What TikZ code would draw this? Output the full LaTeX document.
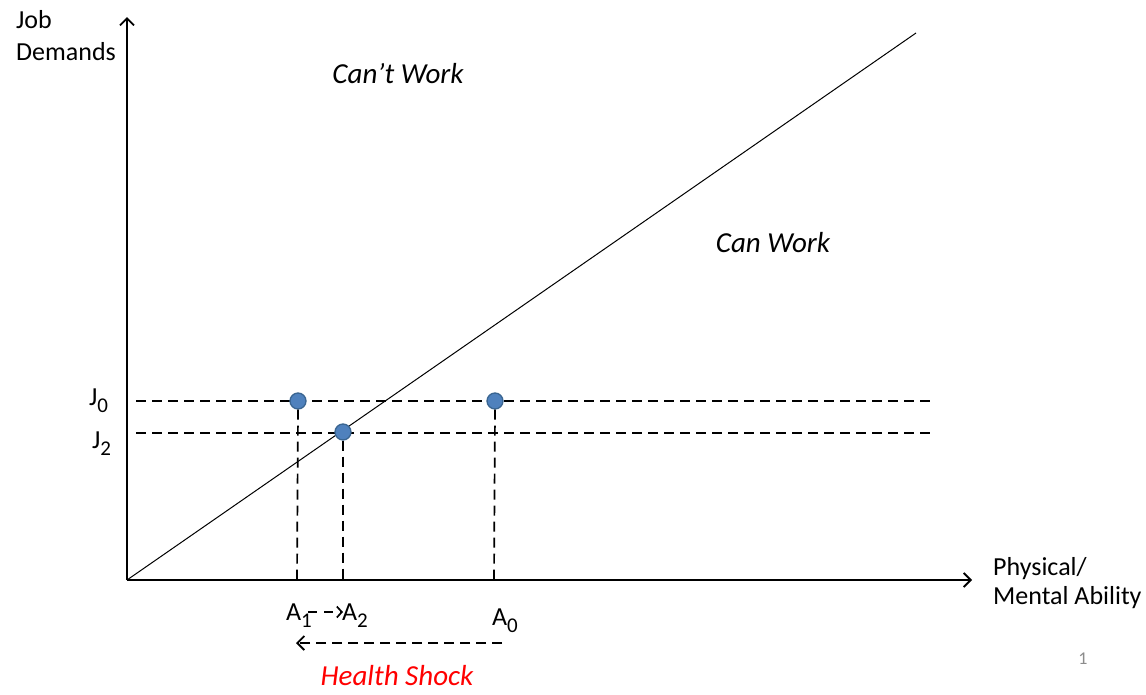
\documentclass[tikz,border=0pt]{standalone}
\usepackage{fontspec}
\setmainfont{Carlito}
\usetikzlibrary{arrows.meta}
\definecolor{dotfill}{HTML}{4F81BD}
\definecolor{dotline}{HTML}{3A6591}
\definecolor{pnum}{HTML}{8C8C8C}
\newcommand{\subd}[1]{\raisebox{-7pt}{\fontsize{21}{21}\selectfont #1}}
\begin{document}
\begin{tikzpicture}[x=1pt,y=-1pt,
  axis/.style={line width=1.8pt,-{Straight Barb[length=7pt,width=14pt,line width=1.8pt]}},
  guide/.style={line width=1.7pt,dash pattern=on 10pt off 6pt},
  dot/.style={circle,fill=dotfill,draw=dotline,line width=1.3pt,inner sep=0pt,minimum size=16pt},
  lbl/.style={font=\fontsize{26}{31}\selectfont,inner sep=0pt},
  reg/.style={font=\fontsize{29}{34}\selectfont\itshape,inner sep=0pt}]
\useasboundingbox (0,0) rectangle (1146,694);
\coordinate (O) at (127,580);
\coordinate (Ytip) at (127,17);
\coordinate (Xtip) at (972,580);
\coordinate (Dend) at (916,33);
\coordinate (J0l) at (136,401);
\coordinate (J0r) at (935,401);
\coordinate (J2l) at (136,433);
\coordinate (J2r) at (935,433);
\coordinate (B1) at (297,580);
\coordinate (B2) at (343,580);
\coordinate (B0) at (494,580);
\draw[axis] (O) -- (Ytip);
\draw[axis] (O) -- (Xtip);
\draw[line width=1pt] (O) -- (Dend);
\draw[guide] (J0l) -- (J0r);
\draw[guide] (J2l) -- (J2r);
\node[dot] (P1) at (298,401) {};
\node[dot] (P2) at (343,432) {};
\node[dot] (P0) at (495,401) {};
\draw[guide] (P1.south) -- (B1);
\draw[guide] (P2.south) -- (B2);
\draw[guide] (P0.south) -- (B0);
\node[lbl,anchor=base west] (J0) at (89,405) {J\subd{0}};
\node[lbl,anchor=base west] (J2) at (92,448) {J\subd{2}};
\node[lbl,anchor=base west] (A1) at (286,620) {A\subd{1}};
\node[lbl,anchor=base west] (A2) at (342,620) {A\subd{2}};
\node[lbl,anchor=base west] (A0) at (492,625) {A\subd{0}};
\coordinate (s1) at (308,612);
\coordinate (s2) at (343,612);
\draw[line width=1.7pt,dash pattern=on 9pt off 7pt,-{Straight Barb[length=5pt,width=11pt,line width=1.7pt]}] (s1) -- (s2);
\coordinate (HSr) at (502,643);
\coordinate (HSl) at (296,643);
\draw[guide,-{Straight Barb[length=7pt,width=14pt,line width=1.8pt]}] (HSr) -- (HSl);
\node[reg,text=red,anchor=base] (HS) at (397,685) {Health Shock};
\node[reg] (CW) at (398,74) {Can’t Work};
\node[reg] (W) at (773,243) {Can Work};
\node[lbl,anchor=north west,align=left,font=\fontsize{26}{32}\selectfont] (YL) at (16,10) {Job\\Demands};
\node[lbl,anchor=north west,align=left,font=\fontsize{26}{29}\selectfont] (XL) at (993,557) {Physical/\\Mental Ability};
\node[font=\fontsize{18}{20}\selectfont,text=pnum,inner sep=0pt] (pg) at (1083,659) {1};
\end{tikzpicture}
\end{document}
